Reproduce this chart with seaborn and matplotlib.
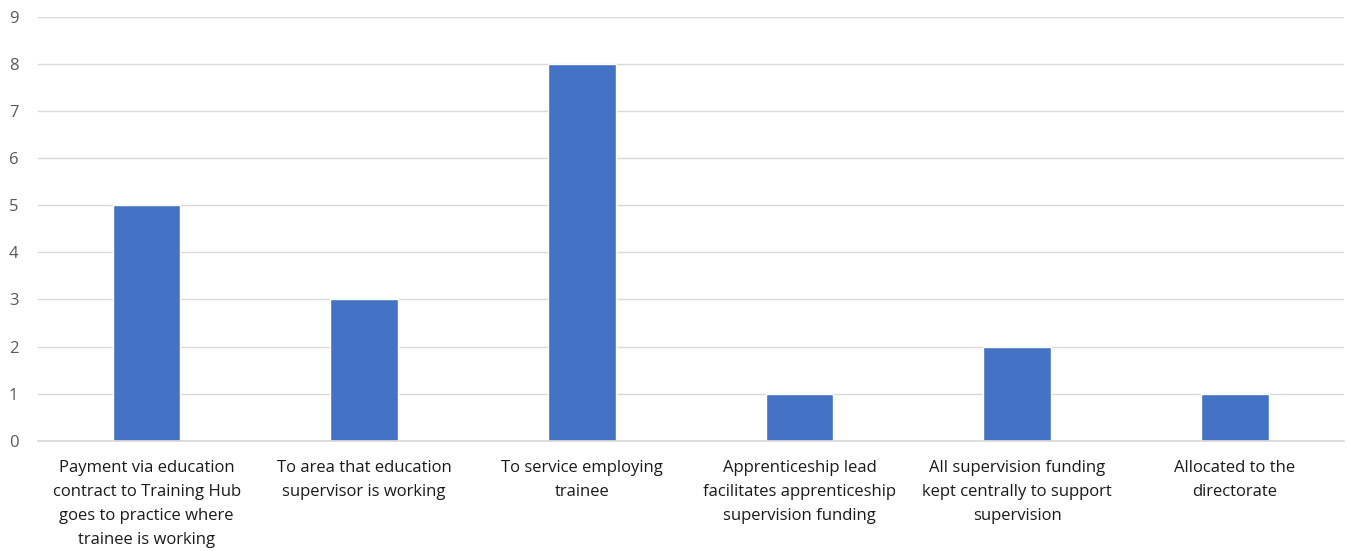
import matplotlib
matplotlib.use("Agg")
import matplotlib.pyplot as plt
import seaborn as sns
import pandas as pd

# data
categories = [
    "Payment via education\ncontract to Training Hub\ngoes to practice where\ntrainee is working",
    "To area that education\nsupervisor is working",
    "To service employing\ntrainee",
    "Apprenticeship lead\nfacilitates apprenticeship\nsupervision funding",
    "All supervision funding\nkept centrally to support\nsupervision",
    "Allocated to the\ndirectorate",
]
counts = [5, 3, 8, 1, 2, 1]
y_ticks = list(range(0, 10))

df = pd.DataFrame({"category": categories, "count": counts})

sns.set_theme(style="white")
plt.rcParams["font.family"] = ["Open Sans", "DejaVu Sans"]

fig, ax = plt.subplots(figsize=(13.49, 5.51), dpi=100)
sns.barplot(data=df, x="category", y="count", color="#4472C4",
            width=0.31, saturation=1, ax=ax)

ax.set_ylim(0, 9)
ax.set_yticks(y_ticks)
ax.yaxis.grid(True, color="#d9d9d9", linewidth=1)
ax.set_axisbelow(True)
for s in ["top", "right", "left"]:
    ax.spines[s].set_visible(False)
ax.spines["bottom"].set_color("#d9d9d9")
ax.tick_params(axis="y", length=0, labelsize=12, colors="#595959", pad=14)
ax.tick_params(axis="x", length=0, labelsize=12, colors="#1a1a1a", pad=14)
for lbl in ax.get_xticklabels():
    lbl.set_linespacing(1.65)
ax.set_xlabel("")
ax.set_ylabel("")

plt.subplots_adjust(left=0.028, right=0.996, top=0.97, bottom=0.2)
fig.savefig("out.png", dpi=100)
